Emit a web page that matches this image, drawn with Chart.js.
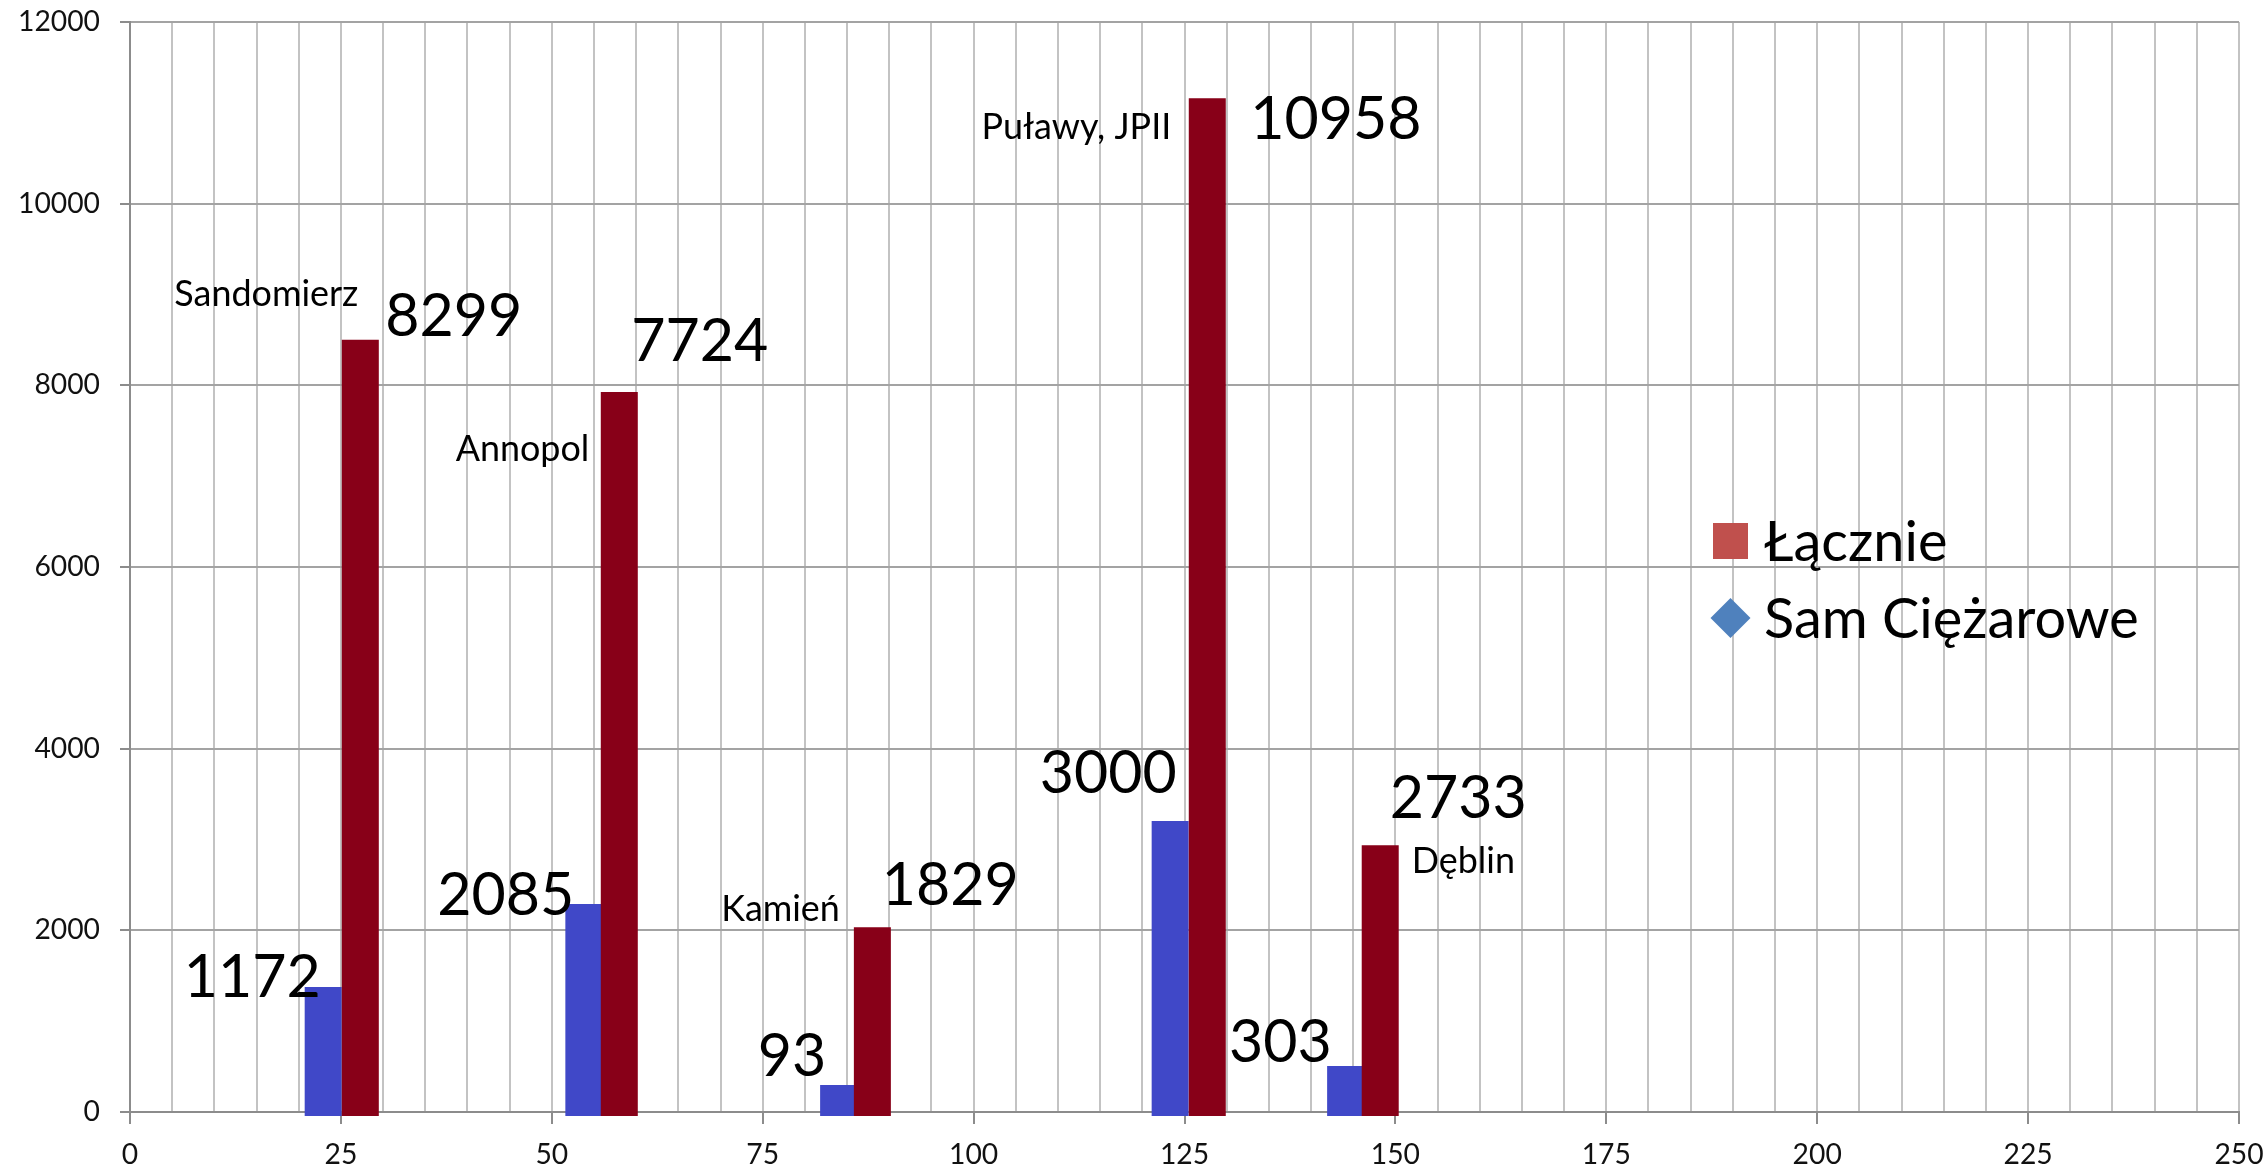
<!DOCTYPE html>
<html>
<head>
<meta charset="utf-8">
<script src="https://cdn.jsdelivr.net/npm/chart.js@4.4.0/dist/chart.umd.min.js"></script>
<style>
  html, body { margin: 0; padding: 0; background: #ffffff; }
  #wrap { width: 2268px; height: 1171px; }
</style>
</head>
<body>
<div id="wrap"><canvas id="c" width="2268" height="1171"></canvas></div>
<script>
// ---------------- DATA ----------------
const places      = ['Sandomierz', 'Annopol', 'Kamień', 'Puławy, JPII', 'Dęblin'];
const seriesNames = ['Łącznie', 'Sam Ciężarowe'];
const totalX      = [27.3, 58.0, 88.0, 127.7, 148.2];   // x position of "Łącznie" columns
const trucksX     = [22.9, 53.8, 84.0, 123.3, 144.1];   // x position of "Sam Ciężarowe" columns
const totals      = [8299, 7724, 1829, 10958, 2733];
const trucks      = [1172, 2085, 93, 3000, 303];
const xTickLabels = [0, 25, 50, 75, 100, 125, 150, 175, 200, 225, 250];
const yTickLabels = [0, 2000, 4000, 6000, 8000, 10000, 12000];

// ---------------- STYLE / LAYOUT ----------------
const FONT = 'Lato, "Open Sans", sans-serif';
const COLOR_TOTAL = '#880018';
const COLOR_TRUCK = '#4048C8';
const LEGEND_TOTAL = '#C0504D';
const LEGEND_TRUCK = '#4F81BD';

// label offsets (px) relative to each column's centre and value pixel
const truckLabelOffsets = [[-2.5, -30.5], [-9.5, -29.6], [-12.5, -48.6], [6.5, -68.5], [-14, -43.5]];
const totalLabelOffsets = [[25, -44], [12, -71], [9.5, -62], [43, 1.3], [9.5, -67]];
const placeLabelOffsets = [[-2, -64.7, 'right'], [-30, 38, 'right'], [-32.5, -37.4, 'right'], [-36, 9.3, 'right'], [31.5, -3.3, 'left']];

const mctx = document.createElement('canvas').getContext('2d');
function fitSize(text, target) {
  mctx.font = '100px ' + FONT;
  return 100 * target / mctx.measureText(text).width;
}
const tickSize   = fitSize('12000', 82);
const bigSize    = fitSize('8299', 137);
const smallSize  = fitSize('Sandomierz', 184);
const legendSize = fitSize('Sam Ciężarowe', 375);

function columnSegments(xs, vs) {
  const out = [];
  xs.forEach((x, i) => { out.push({ x: x, y: 0 }, { x: x, y: vs[i] }, { x: x, y: null }); });
  return out;
}

function capHeight(ctx) {
  return ctx.measureText('H').actualBoundingBoxAscent;
}

const labelPlugin = {
  id: 'labels',
  afterDatasetsDraw(chart) {
    const ctx = chart.ctx;
    const xs = chart.scales.x, ys = chart.scales.y;
    ctx.save();
    ctx.fillStyle = '#000000';
    ctx.textBaseline = 'alphabetic';
    // big value labels
    ctx.font = bigSize.toFixed(2) + 'px ' + FONT;
    let ch = capHeight(ctx);
    trucks.forEach((v, i) => {
      const px = xs.getPixelForValue(trucksX[i]) + truckLabelOffsets[i][0];
      const py = ys.getPixelForValue(v) + truckLabelOffsets[i][1];
      ctx.textAlign = 'right';
      ctx.fillText(String(v), px, py + ch / 2);
    });
    totals.forEach((v, i) => {
      const px = xs.getPixelForValue(totalX[i]) + totalLabelOffsets[i][0];
      const py = ys.getPixelForValue(v) + totalLabelOffsets[i][1];
      ctx.textAlign = 'left';
      ctx.fillText(String(v), px, py + ch / 2);
    });
    // place names
    ctx.font = smallSize.toFixed(2) + 'px ' + FONT;
    ch = capHeight(ctx);
    places.forEach((p, i) => {
      const o = placeLabelOffsets[i];
      const px = xs.getPixelForValue(totalX[i]) + o[0];
      const py = ys.getPixelForValue(totals[i]) + o[1];
      ctx.textAlign = o[2];
      ctx.fillText(p, px, py + ch / 2);
    });
    // legend (inside plot area, right side)
    ctx.font = legendSize.toFixed(2) + 'px ' + FONT;
    ch = capHeight(ctx);
    const lx = 1713, ly1 = 541, ly2 = 618;
    ctx.fillStyle = LEGEND_TOTAL;
    ctx.fillRect(lx, ly1 - 18, 35, 36);
    ctx.fillStyle = LEGEND_TRUCK;
    ctx.beginPath();
    ctx.moveTo(lx + 17.5, ly2 - 20);
    ctx.lineTo(lx + 37.5, ly2);
    ctx.lineTo(lx + 17.5, ly2 + 20);
    ctx.lineTo(lx - 2.5, ly2);
    ctx.closePath();
    ctx.fill();
    ctx.fillStyle = '#000000';
    ctx.textAlign = 'left';
    ctx.fillText(seriesNames[0], 1764, ly1 + ch / 2);
    ctx.fillText(seriesNames[1], 1764, ly2 + ch / 2);
    ctx.restore();
  }
};

new Chart(document.getElementById('c'), {
  type: 'line',
  data: {
    datasets: [
      {
        label: seriesNames[0],
        data: columnSegments(totalX, totals),
        borderColor: COLOR_TOTAL,
        backgroundColor: COLOR_TOTAL,
        borderWidth: 37,
        borderCapStyle: 'square',
        pointRadius: 0,
        spanGaps: false,
        tension: 0,
        fill: false,
        clip: { left: false, top: false, right: false, bottom: 4 }
      },
      {
        label: seriesNames[1],
        data: columnSegments(trucksX, trucks),
        borderColor: COLOR_TRUCK,
        backgroundColor: COLOR_TRUCK,
        borderWidth: 37,
        borderCapStyle: 'square',
        pointRadius: 0,
        spanGaps: false,
        tension: 0,
        fill: false,
        clip: { left: false, top: false, right: false, bottom: 4 }
      }
    ]
  },
  options: {
    responsive: false,
    animation: false,
    devicePixelRatio: 1,
    layout: { padding: { left: 0, right: 29, top: 22, bottom: 0 } },
    plugins: { legend: { display: false }, tooltip: { enabled: false } },
    scales: {
      x: {
        type: 'linear',
        min: 0, max: 250,
        afterFit(s) { s.height = 59; s.paddingLeft = 0; s.paddingRight = 0; },
        border: { color: '#8C8C8C', width: 2 },
        grid: {
          color: '#C3C3C3',
          lineWidth: 2,
          tickLength: 12,
          tickColor: (c) => (c.tick && xTickLabels.includes(c.tick.value)) ? '#8C8C8C' : 'rgba(0,0,0,0)'
        },
        ticks: {
          stepSize: 5,
          autoSkip: false,
          maxRotation: 0,
          padding: 14,
          color: '#111111',
          font: { family: FONT, size: tickSize },
          callback: (v) => xTickLabels.includes(v) ? String(v) : ''
        }
      },
      y: {
        type: 'linear',
        min: 0, max: 12000,
        afterFit(s) { s.width = 130; s.paddingTop = 0; s.paddingBottom = 0; },
        border: { color: '#8C8C8C', width: 2 },
        grid: { color: '#A3A3A3', lineWidth: 2, tickLength: 10, tickColor: '#8C8C8C' },
        ticks: {
          stepSize: 2000,
          padding: 20,
          color: '#111111',
          font: { family: FONT, size: tickSize },
          callback: (v) => yTickLabels.includes(v) ? String(v) : ''
        }
      }
    }
  },
  plugins: [labelPlugin]
});
</script>
</body>
</html>
